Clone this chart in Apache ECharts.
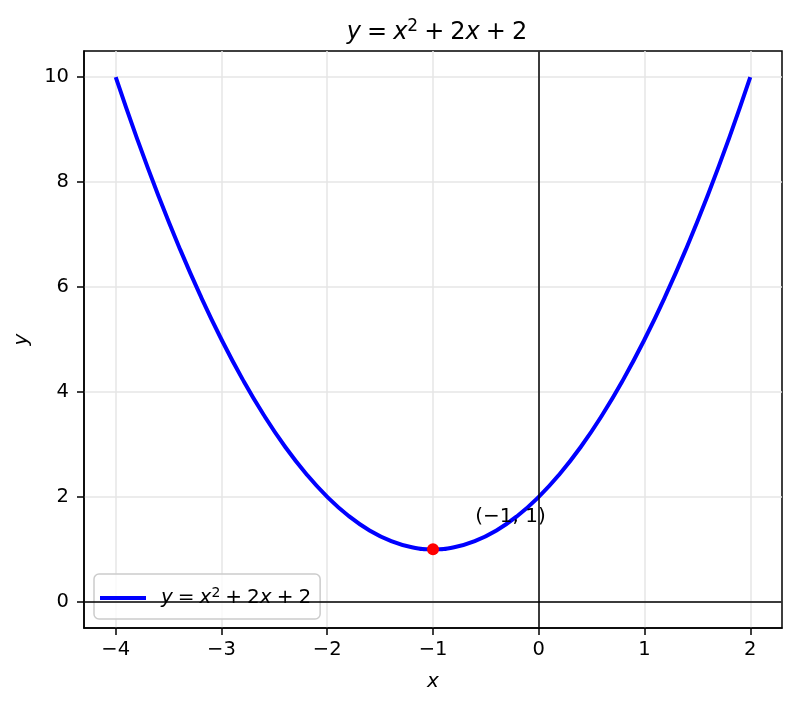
<!DOCTYPE html>
<html>
<head>
<meta charset="utf-8">
<script src="https://cdn.jsdelivr.net/npm/echarts@6/dist/echarts.min.js"></script>
<style>
  html, body { margin: 0; padding: 0; background: #fff; }
  #chart { width: 796px; height: 707px; }
</style>
</head>
<body>
<div id="chart"></div>
<script>
// curve points
const xValues = [-4, -3.8, -3.6, -3.4, -3.2, -3, -2.8, -2.6, -2.4, -2.2, -2, -1.8, -1.6, -1.4, -1.2, -1,
  -0.8, -0.6, -0.4, -0.2, 0, 0.2, 0.4, 0.6, 0.8, 1, 1.2, 1.4, 1.6, 1.8, 2];
const yValues = [10, 8.84, 7.76, 6.76, 5.84, 5, 4.24, 3.56, 2.96, 2.44, 2, 1.64, 1.36, 1.16, 1.04, 1,
  1.04, 1.16, 1.36, 1.64, 2, 2.44, 2.96, 3.56, 4.24, 5, 5.84, 6.76, 7.76, 8.84, 10];
const vertex = [-1, 1];
const vertexLabel = '(−1, 1)';
const labelAnchor = [-0.6, 1.5];
const xTicks = [-4, -3, -2, -1, 0, 1, 2];
const yTicks = [0, 2, 4, 6, 8, 10];

const FONT = 'DejaVu Sans';
const fmtNum = v => (v < 0 ? '−' + Math.abs(v) : String(v));

function eqRich(size) {
  return {
    i: { fontStyle: 'italic', fontWeight: 'normal', fontFamily: FONT, fontSize: size, color: '#000' },
    n: { fontWeight: 'normal', fontFamily: FONT, fontSize: size, color: '#000' },
    s: { fontWeight: 'normal', fontFamily: FONT, fontSize: Math.round(size * 0.7), color: '#000',
      verticalAlign: 'top', padding: [0, 0, Math.round(size * 0.5), 0] }
  };
}
// narrower spaces around operators, like mathtext
const sp = '\u2005';
const eqText = '{i|y}{n|' + sp + '=' + sp + '}{i|x}{s|2}{n|' + sp + '+' + sp + '2}{i|x}{n|' + sp + '+' + sp + '2}';
const seriesName = 'y = x^2 + 2x + 2';

const chart = echarts.init(document.getElementById('chart'));

const option = {
  animation: false,
  title: {
    text: eqText,
    left: 432,
    top: 13,
    textAlign: 'center',
    textStyle: { fontWeight: 'normal', rich: eqRich(24) }
  },
  grid: {
    left: 84, right: 14, top: 51, bottom: 79,
    show: true, borderColor: '#000', borderWidth: 1.5, backgroundColor: 'transparent'
  },
  legend: {
    left: 94,
    top: 574,
    orient: 'vertical',
    padding: [12, 9, 11, 6],
    borderColor: '#cccccc',
    borderWidth: 1.5,
    borderRadius: 5,
    backgroundColor: 'rgba(255,255,255,0.8)',
    icon: 'rect',
    itemWidth: 46,
    itemHeight: 4,
    data: [seriesName],
    formatter: () => eqText,
    textStyle: { rich: eqRich(20), padding: [0, 0, 0, 10] }
  },
  xAxis: {
    type: 'value',
    min: -4.3,
    max: 2.3,
    name: 'x',
    nameLocation: 'middle',
    nameGap: 44,
    nameTextStyle: { fontFamily: FONT, fontStyle: 'italic', fontSize: 20, color: '#000' },
    axisLine: { show: true, onZero: false, lineStyle: { color: '#000', width: 1.5 } },
    axisTick: { show: true, length: 7, lineStyle: { color: '#000', width: 1.5 }, customValues: xTicks },
    axisLabel: { fontFamily: FONT, fontSize: 19.5, color: '#000', margin: 12, formatter: fmtNum, customValues: xTicks },
    splitLine: { show: true, lineStyle: { color: '#e6e6e6', width: 1.5 } }
  },
  yAxis: {
    type: 'value',
    min: -0.5,
    max: 10.5,
    name: 'y',
    nameLocation: 'middle',
    nameGap: 52,
    nameTextStyle: { fontFamily: FONT, fontStyle: 'italic', fontSize: 20, color: '#000' },
    axisLine: { show: true, onZero: false, lineStyle: { color: '#000', width: 1.5 } },
    axisTick: { show: true, length: 7, lineStyle: { color: '#000', width: 1.5 }, customValues: yTicks },
    axisLabel: { fontFamily: FONT, fontSize: 19.5, color: '#000', margin: 15, formatter: fmtNum, customValues: yTicks },
    splitLine: { show: true, lineStyle: { color: '#e6e6e6', width: 1.5 } }
  },
  series: [
    {
      name: seriesName,
      type: 'line',
      data: xValues.map((x, i) => [x, yValues[i]]),
      smooth: true,
      showSymbol: false,
      lineStyle: { color: '#0000ff', width: 4 },
      itemStyle: { color: '#0000ff' },
      z: 3,
      markLine: {
        silent: true,
        symbol: 'none',
        label: { show: false },
        lineStyle: { color: '#000', width: 1.5, type: 'solid' },
        data: [{ xAxis: 0 }, { yAxis: 0 }]
      }
    },
    {
      name: 'vertex',
      type: 'scatter',
      data: [vertex],
      symbolSize: 12,
      itemStyle: { color: '#ff0000', opacity: 1 },
      z: 4
    },
    {
      name: 'annotation',
      type: 'scatter',
      data: [labelAnchor],
      symbolSize: 0,
      silent: true,
      itemStyle: { opacity: 1 },
      label: {
        show: true,
        position: [0, 0],
        align: 'left',
        verticalAlign: 'bottom',
        offset: [0, 4],
        formatter: vertexLabel,
        fontFamily: FONT,
        fontSize: 20,
        color: '#000',
        opacity: 1
      },
      z: 5
    }
  ]
};

chart.setOption(option);
</script>
</body>
</html>
